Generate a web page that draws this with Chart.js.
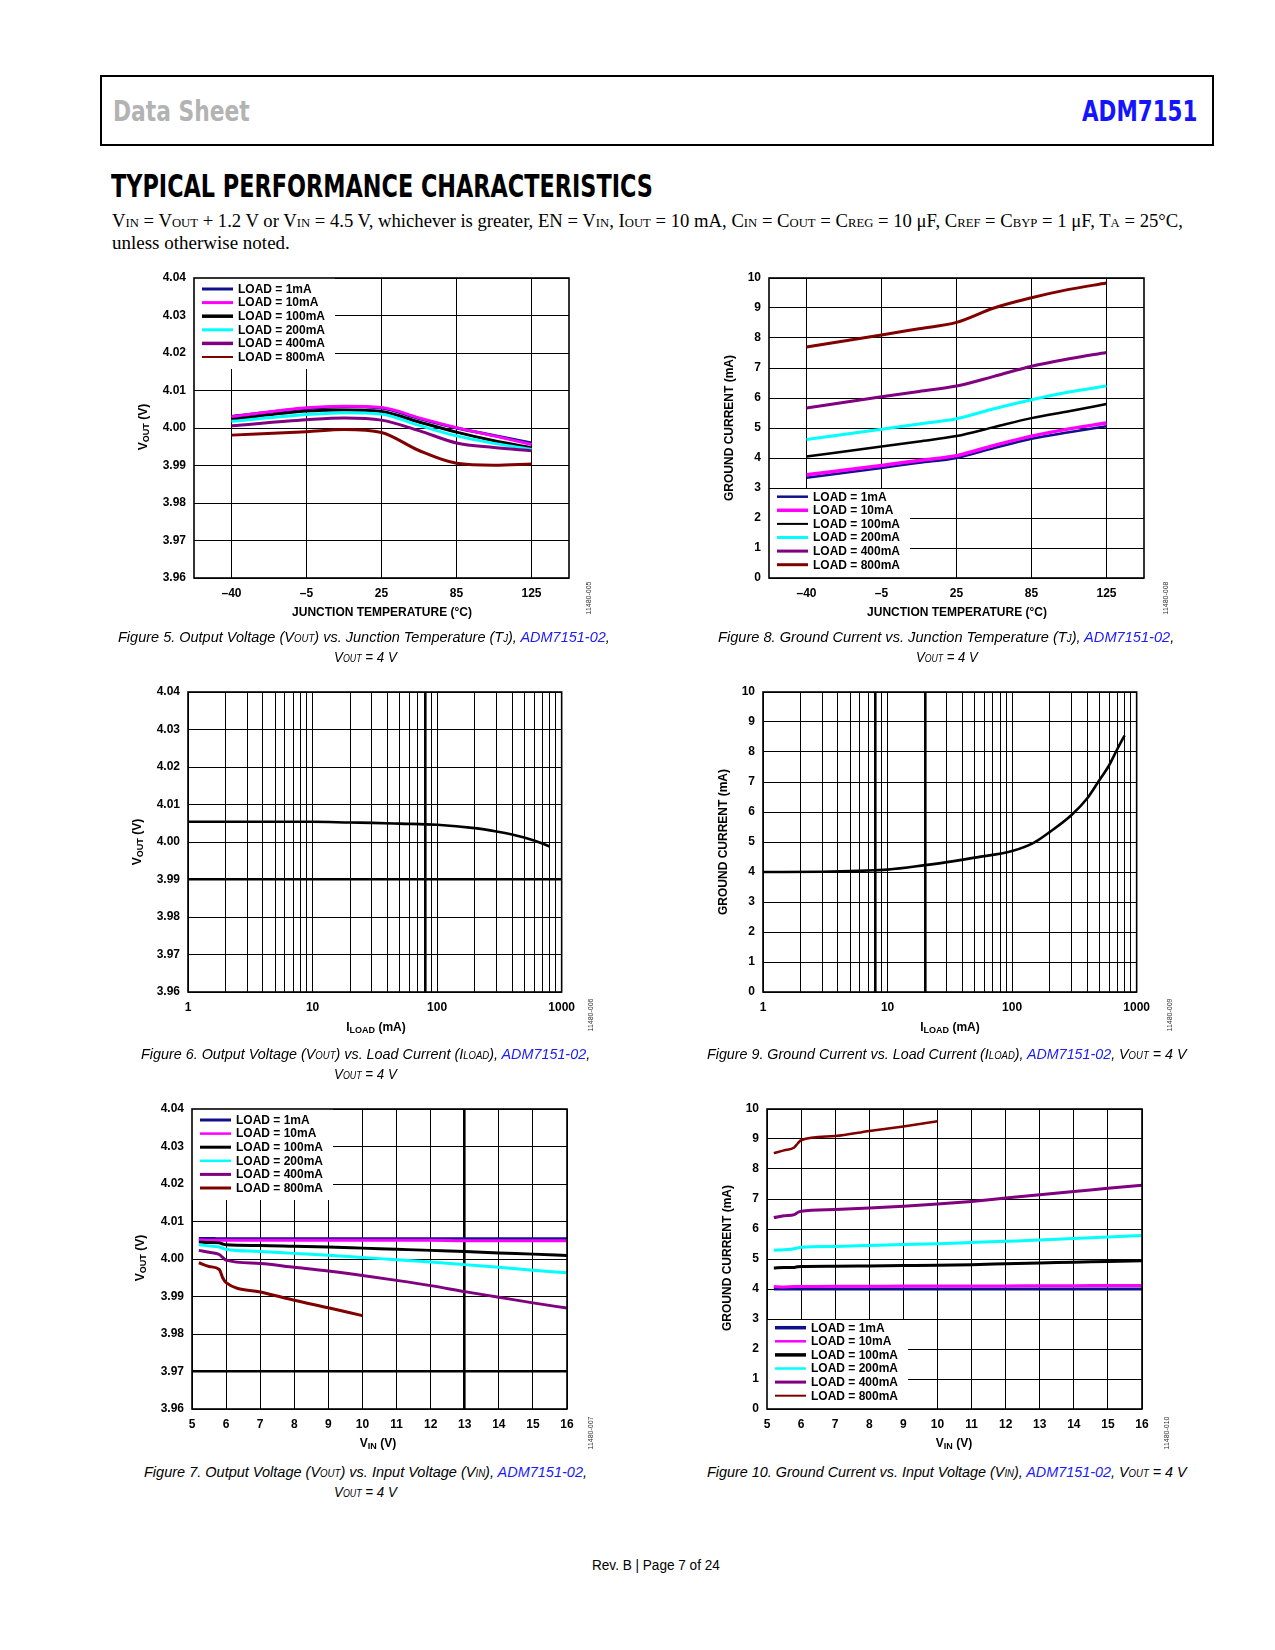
<!DOCTYPE html>
<html>
<head>
<meta charset="utf-8">
<title>ADM7151 Typical Performance Characteristics</title>
<script src="https://cdn.jsdelivr.net/npm/chart.js@4.4.1/dist/chart.umd.min.js"></script>
<style>
  html, body { margin: 0; padding: 0; background: #fff; }
  body { position: relative; width: 1275px; height: 1650px; overflow: hidden; font-family: "Liberation Sans", Arial, sans-serif; color: #000; }
  .a { position: absolute; white-space: nowrap; }
  .fit { transform-origin: 0 50%; }
  #hdr { position: absolute; left: 100px; top: 75px; width: 1110px; height: 67px; border: 2px solid #000; }
  .hd { font-family: "Liberation Sans Narrow", "DejaVu Sans Condensed", "Liberation Sans", sans-serif; font-weight: bold; font-size: 29px; line-height: 29px; top: 97px; }
  #title { left: 111px; top: 170px; font-family: "Liberation Sans Narrow", "DejaVu Sans Condensed", "Liberation Sans", sans-serif; font-weight: bold; font-size: 32px; line-height: 32px; }
  .body { font-family: "Liberation Serif", "Times New Roman", serif; font-size: 19px; line-height: 22px; }
  .body .s { font-size: 0.68em; }
  canvas { position: absolute; }
  .at { position: absolute; font-weight: bold; font-size: 12px; line-height: 14px; white-space: nowrap; transform: translate(-50%, -50%); }
  .at.r { transform: translate(-50%, -50%) rotate(-90deg); }
  .at .s { font-size: 9px; position: relative; top: 2px; }
  .id { position: absolute; font-size: 7px; line-height: 8px; color: #333; white-space: nowrap; transform: translate(-50%, -50%) rotate(-90deg); }
  .cap { font-style: italic; font-size: 15px; line-height: 18px; }
  .cap .s { font-size: 10px; }
  .lk { color: #1a1aff; }
  #foot { font-size: 14px; line-height: 16px; top: 1557px; left: 592px; }
</style>
</head>
<body>

<div id="hdr"></div>
<div class="a hd fit" data-w="137" style="left:113px;color:#b3b3b3">Data Sheet</div>
<div class="a hd fit" data-w="115" style="left:1082px;color:#1414ff">ADM7151</div>

<div id="title" class="a fit" data-w="542">TYPICAL PERFORMANCE CHARACTERISTICS</div>
<div class="a body fit" data-w="1071" style="left:112px;top:210px">V<span class="s">IN</span> = V<span class="s">OUT</span> + 1.2 V or V<span class="s">IN</span> = 4.5 V, whichever is greater, EN = V<span class="s">IN</span>, I<span class="s">OUT</span> = 10 mA, C<span class="s">IN</span> = C<span class="s">OUT</span> = C<span class="s">REG</span> = 10 μF, C<span class="s">REF</span> = C<span class="s">BYP</span> = 1 μF, T<span class="s">A</span> = 25°C,</div>
<div class="a body" style="left:112px;top:232px">unless otherwise noted.</div>

<canvas id="c5" width="445" height="340" style="left:144px;top:268px"></canvas>
<canvas id="c8" width="445" height="340" style="left:719px;top:268px"></canvas>
<canvas id="c6" width="445" height="340" style="left:138px;top:682px"></canvas>
<canvas id="c9" width="445" height="340" style="left:713px;top:682px"></canvas>
<canvas id="c7" width="445" height="340" style="left:142px;top:1099px"></canvas>
<canvas id="c10" width="445" height="340" style="left:717px;top:1099px"></canvas>

<!-- axis titles -->
<div class="at r" style="left:143px;top:427px">V<span class="s">OUT</span> (V)</div>
<div class="at" style="left:382px;top:612px">JUNCTION TEMPERATURE (°C)</div>
<div class="at r" style="left:729px;top:428px">GROUND CURRENT (mA)</div>
<div class="at" style="left:957px;top:612px">JUNCTION TEMPERATURE (°C)</div>
<div class="at r" style="left:137px;top:842px">V<span class="s">OUT</span> (V)</div>
<div class="at" style="left:376px;top:1027px">I<span class="s">LOAD</span> (mA)</div>
<div class="at r" style="left:723px;top:842px">GROUND CURRENT (mA)</div>
<div class="at" style="left:950px;top:1027px">I<span class="s">LOAD</span> (mA)</div>
<div class="at r" style="left:140px;top:1258px">V<span class="s">OUT</span> (V)</div>
<div class="at" style="left:378px;top:1443px">V<span class="s">IN</span> (V)</div>
<div class="at r" style="left:727px;top:1258px">GROUND CURRENT (mA)</div>
<div class="at" style="left:954px;top:1443px">V<span class="s">IN</span> (V)</div>

<div class="id" style="left:589px;top:598px">11480-005</div>
<div class="id" style="left:1166px;top:598px">11480-008</div>
<div class="id" style="left:591px;top:1015px">11480-006</div>
<div class="id" style="left:1170px;top:1015px">11480-009</div>
<div class="id" style="left:591px;top:1433px">11480-007</div>
<div class="id" style="left:1167px;top:1433px">11480-010</div>

<!-- captions -->
<div class="a cap fit" data-w="492" style="left:118px;top:628px">Figure 5. Output Voltage (V<span class="s">OUT</span>) vs. Junction Temperature (T<span class="s">J</span>), <span class="lk">ADM7151-02</span>,</div>
<div class="a cap fit" data-w="63" style="left:334px;top:648px">V<span class="s">OUT</span> = 4 V</div>
<div class="a cap fit" data-w="456" style="left:718px;top:628px">Figure 8. Ground Current vs. Junction Temperature (T<span class="s">J</span>), <span class="lk">ADM7151-02</span>,</div>
<div class="a cap fit" data-w="62" style="left:916px;top:648px">V<span class="s">OUT</span> = 4 V</div>
<div class="a cap fit" data-w="449" style="left:141px;top:1045px">Figure 6. Output Voltage (V<span class="s">OUT</span>) vs. Load Current (I<span class="s">LOAD</span>), <span class="lk">ADM7151-02</span>,</div>
<div class="a cap fit" data-w="63" style="left:334px;top:1065px">V<span class="s">OUT</span> = 4 V</div>
<div class="a cap fit" data-w="479" style="left:707px;top:1045px">Figure 9. Ground Current vs. Load Current (I<span class="s">LOAD</span>), <span class="lk">ADM7151-02</span>, V<span class="s">OUT</span> = 4 V</div>
<div class="a cap fit" data-w="443" style="left:144px;top:1463px">Figure 7. Output Voltage (V<span class="s">OUT</span>) vs. Input Voltage (V<span class="s">IN</span>), <span class="lk">ADM7151-02</span>,</div>
<div class="a cap fit" data-w="63" style="left:334px;top:1483px">V<span class="s">OUT</span> = 4 V</div>
<div class="a cap fit" data-w="480" style="left:707px;top:1463px">Figure 10. Ground Current vs. Input Voltage (V<span class="s">IN</span>), <span class="lk">ADM7151-02</span>, V<span class="s">OUT</span> = 4 V</div>

<div id="foot" class="a fit" data-w="128">Rev. B | Page 7 of 24</div>

<script>
// ---------- data ----------
const loadLabels = ['LOAD = 1mA', 'LOAD = 10mA', 'LOAD = 100mA', 'LOAD = 200mA', 'LOAD = 400mA', 'LOAD = 800mA'];

// temperature axis is categorical: –40, –5, 25, 85, 125 evenly spaced
const tempTicks = ['–40', '–5', '25', '85', '125'];
const tempPos = [0, 1, 1.5, 2, 2.5, 3, 3.5, 4];

const voutTicks = [3.96, 3.97, 3.98, 3.99, 4.00, 4.01, 4.02, 4.03, 4.04];
const gndTicks = [0, 1, 2, 3, 4, 5, 6, 7, 8, 9, 10];
const loadTicks = [1, 10, 100, 1000];
const loadGrid = [1, 2, 3, 4, 5, 6, 7, 8, 9, 10, 20, 30, 40, 50, 60, 70, 80, 90,
                  100, 200, 300, 400, 500, 600, 700, 800, 900, 1000];
const vinTicks = [5, 6, 7, 8, 9, 10, 11, 12, 13, 14, 15, 16];

// Figure 5: VOUT vs junction temperature
const f5Load1 = [4.0031, 4.0052, 4.0057, 4.0053, 4.0025, 4.0000, 3.9980, 3.9960];
const f5Load10 = [4.0030, 4.0054, 4.0058, 4.0055, 4.0027, 4.0001, 3.9979, 3.9956];
const f5Load100 = [4.0023, 4.0045, 4.0048, 4.0044, 4.0016, 3.9989, 3.9966, 3.9947];
const f5Load200 = [4.0018, 4.0036, 4.0041, 4.0037, 4.0007, 3.9979, 3.9959, 3.9943];
const f5Load400 = [4.0006, 4.0022, 4.0027, 4.0021, 3.9993, 3.9960, 3.9948, 3.9939];
const f5Load800 = [3.9981, 3.9990, 3.9996, 3.9988, 3.9940, 3.9906, 3.9901, 3.9904];

// Figure 8: ground current vs junction temperature
const f8Load1 = [3.34, 3.67, 3.84, 4.00, 4.33, 4.64, 4.86, 5.06];
const f8Load10 = [3.44, 3.75, 3.92, 4.08, 4.42, 4.73, 4.97, 5.17];
const f8Load100 = [4.05, 4.38, 4.55, 4.73, 5.03, 5.33, 5.56, 5.80];
const f8Load200 = [4.62, 4.96, 5.13, 5.31, 5.64, 5.94, 6.20, 6.40];
const f8Load400 = [5.67, 6.04, 6.22, 6.40, 6.72, 7.06, 7.31, 7.52];
const f8Load800 = [7.70, 8.10, 8.31, 8.52, 9.00, 9.34, 9.62, 9.83];

// Figure 6: VOUT vs load current
const f6Load = [1, 2, 5, 10, 20, 30, 50, 100, 200, 300, 400, 500, 600, 700, 800];
const f6Vout = [4.0054, 4.0054, 4.0054, 4.0054, 4.0052, 4.0051, 4.0049, 4.0046, 4.0037, 4.0028, 4.0020, 4.0012, 4.0004, 3.9996, 3.9988];

// Figure 9: ground current vs load current
const f9Load = [1, 3, 5, 8, 10, 20, 30, 50, 100, 150, 200, 300, 400, 500, 600, 700, 800];
const f9Gnd = [4.00, 4.01, 4.03, 4.06, 4.08, 4.23, 4.33, 4.48, 4.70, 4.98, 5.33, 5.90, 6.45, 7.05, 7.55, 8.10, 8.55];

// Figures 7 and 10: input voltage sweep
const vinPts = [5.2, 5.5, 5.8, 5.9, 6, 7, 8, 9, 10, 11, 12, 13, 14, 15, 16];

const f7Load1 = [4.0055, 4.0055, 4.0054, 4.0054, 4.0054, 4.0054, 4.0054, 4.0054, 4.0054, 4.0054, 4.0054, 4.0054, 4.0054, 4.0054, 4.0054];
const f7Load10 = [4.0051, 4.0050, 4.0050, 4.0050, 4.0050, 4.0050, 4.0050, 4.0050, 4.0050, 4.0050, 4.0050, 4.0049, 4.0049, 4.0049, 4.0049];
const f7Load100 = [4.0045, 4.0044, 4.0043, 4.0040, 4.0038, 4.0036, 4.0034, 4.0032, 4.0029, 4.0026, 4.0023, 4.0020, 4.0016, 4.0013, 4.0009];
const f7Load200 = [4.0038, 4.0035, 4.0032, 4.0029, 4.0026, 4.0020, 4.0015, 4.0010, 4.0004, 3.9998, 3.9992, 3.9985, 3.9978, 3.9970, 3.9963];
const f7Load400 = [4.0023, 4.0018, 4.0012, 4.0004, 3.9997, 3.9988, 3.9978, 3.9968, 3.9956, 3.9943, 3.9929, 3.9913, 3.9898, 3.9883, 3.9869];
const f7Load800 = [3.9990, 3.9980, 3.9972, 3.9950, 3.9937, 3.9912, 3.9890, 3.9870, 3.9849];

const f10Load1 = [4.00, 4.00, 4.00, 4.00, 4.00, 4.00, 4.00, 4.00, 4.00, 4.00, 4.00, 4.00, 4.00, 4.00, 4.00];
const f10Load10 = [4.08, 4.07, 4.08, 4.08, 4.08, 4.09, 4.09, 4.10, 4.10, 4.10, 4.10, 4.11, 4.11, 4.12, 4.12];
const f10Load100 = [4.70, 4.72, 4.72, 4.74, 4.75, 4.76, 4.77, 4.78, 4.79, 4.81, 4.84, 4.87, 4.89, 4.92, 4.94];
const f10Load200 = [5.29, 5.31, 5.34, 5.37, 5.39, 5.42, 5.45, 5.48, 5.51, 5.55, 5.59, 5.63, 5.68, 5.73, 5.78];
const f10Load400 = [6.38, 6.44, 6.48, 6.55, 6.59, 6.65, 6.70, 6.76, 6.83, 6.92, 7.03, 7.14, 7.25, 7.36, 7.46];
const f10Load800 = [8.53, 8.62, 8.72, 8.85, 8.96, 9.10, 9.27, 9.42, 9.59];

// ---------- drawing ----------
Chart.defaults.font.family = '"Liberation Sans", Arial, sans-serif';
Chart.defaults.font.size = 12;
Chart.defaults.font.weight = 'bold';
Chart.defaults.color = '#000';

const lineColors = ['#10108c', '#ff00ff', '#000000', '#00ffff', '#800080', '#800000'];

// box around the plot area
const frame = {
  id: 'frame',
  afterDraw(chart) {
    const a = chart.chartArea, c = chart.ctx;
    c.save();
    c.strokeStyle = '#000';
    c.lineWidth = 1.6;
    c.strokeRect(a.left, a.top, a.right - a.left, a.bottom - a.top);
    c.restore();
  }
};

// legend drawn inside the plot, on a white patch that hides the grid
const boxLegend = {
  id: 'boxLegend',
  beforeDatasetsDraw(chart, args, o) {
    const a = chart.chartArea, c = chart.ctx;
    c.save();
    c.fillStyle = '#fff';
    c.fillRect(a.left, a.top + o.y, 141, o.h);
    c.restore();
  },
  afterDatasetsDraw(chart, args, o) {
    const a = chart.chartArea, c = chart.ctx;
    c.save();
    c.font = 'bold 12px "Liberation Sans", Arial, sans-serif';
    c.textBaseline = 'middle';
    c.fillStyle = '#000';
    chart.data.datasets.forEach((d, i) => {
      const y = a.top + o.row + i * 13.6;
      c.strokeStyle = d.borderColor;
      c.lineWidth = o.widths[i];
      c.beginPath();
      c.moveTo(a.left + 8, y);
      c.lineTo(a.left + 39, y);
      c.stroke();
      c.fillText(d.label, a.left + 44, y + 0.5);
    });
    c.restore();
  }
};

function series(xs, ys, i, w) {
  return {
    label: loadLabels[i],
    data: ys.map((y, k) => ({ x: xs[k], y: y })),
    borderColor: lineColors[i],
    backgroundColor: lineColors[i],
    borderWidth: w,
    order: -i
  };
}

function axis(type, min, max, ticks, label, thick, isX) {
  return {
    type: type,
    min: min,
    max: max,
    afterBuildTicks: s => { s.ticks = ticks.map(v => ({ value: v })); },
    afterFit: s => {
      if (isX) {
        s.height = 30;
      } else {
        s.width = 50;
        s.paddingTop = 0;
        s.paddingBottom = 0;
      }
    },
    grid: {
      color: '#000',
      drawTicks: false,
      lineWidth: c => (c.tick && thick.indexOf(c.tick.value) >= 0 ? 2.6 : 1)
    },
    border: { display: false },
    ticks: {
      autoSkip: false, maxRotation: 0, minRotation: 0, padding: 8,
      color: '#000', font: { size: 12, weight: 'bold' },
      callback: label
    }
  };
}

function draw(id, datasets, x, y, legend) {
  new Chart(document.getElementById(id), {
    type: 'line',
    data: { datasets: datasets },
    options: {
      responsive: false,
      animation: false,
      events: [],
      layout: { padding: { left: 0, top: 10, right: 20, bottom: 0 } },
      elements: {
        point: { radius: 0 },
        line: { cubicInterpolationMode: 'monotone', borderJoinStyle: 'round' }
      },
      plugins: { legend: { display: false }, tooltip: { enabled: false }, boxLegend: legend || false },
      scales: { x: x, y: y }
    },
    plugins: [boxLegend, frame]
  });
}

const tempAxis = () => axis('linear', -0.5, 4.5, tempTicks.map((t, i) => i), v => tempTicks[v], [], true);
const voutAxis = thick => axis('linear', 3.96, 4.04, voutTicks, v => v.toFixed(2), thick, false);
const gndAxis = () => axis('linear', 0, 10, gndTicks, v => String(v), [], false);
const loadAxis = thick => axis('logarithmic', 1, 1000, loadGrid, v => (loadTicks.indexOf(v) >= 0 ? String(v) : ''), thick, true);
const vinAxis = thick => axis('linear', 5, 16, vinTicks, v => String(v), thick, true);

const topLegend = w => ({ y: 0, h: 91, row: 11, widths: w });
const bottomLegend = w => ({ y: 211, h: 89, row: 218.7, widths: w });

draw('c5', [
  series(tempPos, f5Load1, 0, 3), series(tempPos, f5Load10, 1, 3), series(tempPos, f5Load100, 2, 3),
  series(tempPos, f5Load200, 3, 3), series(tempPos, f5Load400, 4, 3), series(tempPos, f5Load800, 5, 3)
], tempAxis(), voutAxis([]), topLegend([3, 3, 3.5, 3, 3.5, 2]));

draw('c8', [
  series(tempPos, f8Load1, 0, 2.5), series(tempPos, f8Load10, 1, 3.5), series(tempPos, f8Load100, 2, 2.5),
  series(tempPos, f8Load200, 3, 3), series(tempPos, f8Load400, 4, 3), series(tempPos, f8Load800, 5, 3)
], tempAxis(), gndAxis(), bottomLegend([2.5, 3.5, 2, 3, 3, 3]));

draw('c6', [
  { label: 'VOUT', data: f6Vout.map((v, k) => ({ x: f6Load[k], y: v })), borderColor: '#000', borderWidth: 2.6 }
], loadAxis([80]), voutAxis([3.99]), null);

draw('c9', [
  { label: 'IGND', data: f9Gnd.map((v, k) => ({ x: f9Load[k], y: v })), borderColor: '#000', borderWidth: 2.6 }
], loadAxis([8, 20]), gndAxis(), null);

draw('c7', [
  series(vinPts, f7Load1, 0, 3), series(vinPts, f7Load10, 1, 3), series(vinPts, f7Load100, 2, 3),
  series(vinPts, f7Load200, 3, 3), series(vinPts, f7Load400, 4, 3), series(vinPts, f7Load800, 5, 3)
], vinAxis([13]), voutAxis([3.97]), topLegend([3, 2.5, 3, 2.5, 3, 3]));

draw('c10', [
  series(vinPts, f10Load1, 0, 3), series(vinPts, f10Load10, 1, 3), series(vinPts, f10Load100, 2, 3),
  series(vinPts, f10Load200, 3, 3), series(vinPts, f10Load400, 4, 3), series(vinPts, f10Load800, 5, 2.5)
], vinAxis([]), gndAxis(), bottomLegend([3.5, 2.5, 3.5, 2.5, 3, 2]));

// squeeze / stretch the page texts to the widths they have in the datasheet
document.querySelectorAll('.fit').forEach(el => {
  const w = el.offsetWidth;
  el.style.transform = 'scaleX(' + (+el.dataset.w / w) + ')';
});
</script>
</body>
</html>
